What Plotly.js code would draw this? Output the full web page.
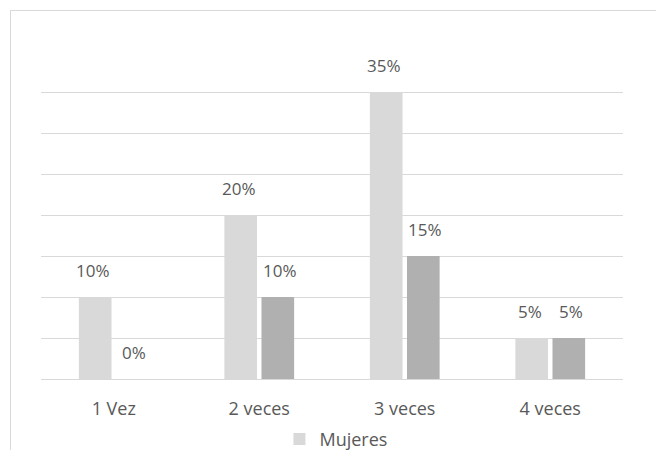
<!DOCTYPE html>
<html>
<head>
<meta charset="utf-8">
<script src="https://cdn.plot.ly/plotly-3.0.1.min.js"></script>
<style>
html,body{margin:0;padding:0;background:#fff;}
#wrap{position:relative;width:656px;height:450px;overflow:hidden;}
#frame{position:absolute;left:10px;top:10px;width:660px;height:460px;border-top:1px solid #d9d9d9;border-left:1px solid #d9d9d9;pointer-events:none;}
#chart{position:absolute;left:0;top:0;width:656px;height:450px;}
</style>
</head>
<body>
<div id="wrap">
<div id="chart"></div>
<div id="frame"></div>
</div>
<script>
const categories = ["1 Vez", "2 veces", "3 veces", "4 veces"];
const mujeres = [10, 20, 35, 5];
const hombres = [0, 10, 15, 5];

const font = "'Open Sans', 'DejaVu Sans', sans-serif";
const traces = [
  {
    type: "bar", name: "Mujeres", x: categories, y: mujeres,
    marker: {color: "#d9d9d9"}, hoverinfo: "none"
  },
  {
    type: "bar", name: "Hombres", x: categories, y: hombres,
    marker: {color: "#b0b0b0"}, showlegend: false, hoverinfo: "none"
  }
];
function labels(vals, shift) {
  return vals.map((v, i) => ({
    x: categories[i], y: v, xref: "x", yref: "y", text: v + "%",
    showarrow: false, xanchor: "center", yanchor: "bottom",
    xshift: shift, yshift: 13,
    font: {size: 17, color: "#595959", family: font}
  }));
}
const layout = {
  width: 656, height: 450,
  margin: {l: 41, r: 33, t: 51, b: 71, autoexpand: false},
  paper_bgcolor: "rgba(0,0,0,0)", plot_bgcolor: "#fff",
  barmode: "group", bargap: 0.49, bargroupgap: 0.12,
  font: {family: font, color: "#595959", size: 17},
  showlegend: true,
  legend: {orientation: "h", xref: "container", yref: "container",
           x: 0.426, xanchor: "left", y: 0.065, yanchor: "top",
           font: {size: 18, color: "#595959"}, itemwidth: 30},
  xaxis: {showline: false, ticks: "", automargin: false, ticklabelstandoff: 17,
          tickfont: {size: 18, color: "#595959"}},
  yaxis: {range: [0, 40], dtick: 5, showticklabels: false, showgrid: true, automargin: false,
          gridcolor: "#d9d9d9", gridwidth: 1, zeroline: true, zerolinecolor: "#d9d9d9",
          zerolinewidth: 1},
  annotations: labels(mujeres, -20.5).concat(labels(hombres, 20.5))
};
Plotly.newPlot("chart", traces, layout, {displayModeBar: false, staticPlot: true});
</script>
</body>
</html>
